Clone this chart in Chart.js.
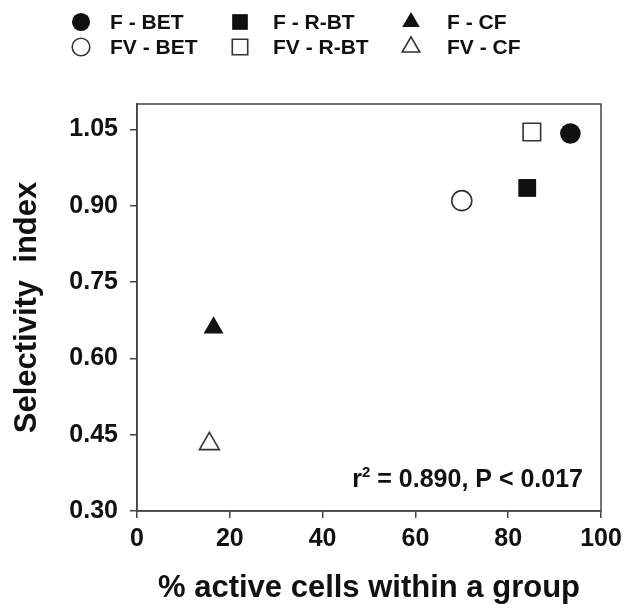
<!DOCTYPE html>
<html>
<head>
<meta charset="utf-8">
<script src="https://cdn.jsdelivr.net/npm/chart.js@4.4.1/dist/chart.umd.min.js"></script>
<style>
  html, body { margin: 0; padding: 0; background: #fff; }
  #wrap { width: 635px; height: 608px; }
</style>
</head>
<body>
<div id="wrap"><canvas id="chart"></canvas></div>
<script>
// ── Data ─────────────────────────────────────────────────────────────────────

const groupNames  = ['F - BET', 'F - R-BT', 'F - CF', 'FV - BET', 'FV - R-BT', 'FV - CF'];
const activeCells = [93.4, 84.1, 16.5, 70.0, 85.1, 15.6];   // % active cells within a group
const selectivity = [1.042, 0.935, 0.660, 0.910, 1.045, 0.432];
const yTicks      = [0.30, 0.45, 0.60, 0.75, 0.90, 1.05];
const xTicks      = [0, 20, 40, 60, 80, 100];
const statText    = ['r', '2', ' = 0.890, P < 0.017'];

// ── Styles ───────────────────────────────────────────────────────────────────

const ink    = '#111';
const frame  = '#444';
const family = '"Liberation Sans", Arial, Helvetica, sans-serif';
const shapes = ['circle', 'rect', 'triangle', 'circle', 'rect', 'triangle'];
const radii  = [10.3, 12.6, 11.5, 10, 12.4, 11.5];
const filled = [true, true, true, false, false, false];

const datasets = groupNames.map((name, i) => ({
  label: name,
  data: [{ x: activeCells[i], y: selectivity[i] }],
  pointStyle: shapes[i],
  pointRadius: radii[i],
  pointHoverRadius: radii[i],
  backgroundColor: filled[i] ? ink : '#fff',
  borderColor: filled[i] ? ink : '#333',
  borderWidth: filled[i] ? 0 : 1.6,
}));

// ── Plugins: frame, legend grid, stats text ──────────────────────────────────

const framePlugin = {
  id: 'frame',
  afterDraw(chart) {
    const { ctx, chartArea: a } = chart;
    ctx.save();
    ctx.strokeStyle = frame;
    ctx.lineWidth = 1.5;
    ctx.strokeRect(a.left, a.top, a.right - a.left, a.bottom - a.top);
    ctx.restore();
  }
};

const legendPlugin = {
  id: 'gridLegend',
  afterDraw(chart) {
    const ctx = chart.ctx;
    const markX = [81, 240, 411];
    const textX = [110, 273, 447];
    const rowY  = [22, 47];
    ctx.save();
    chart.data.datasets.forEach((ds, i) => {
      const col = i % 3, row = Math.floor(i / 3);
      ctx.fillStyle = ds.backgroundColor;
      ctx.strokeStyle = ds.borderColor;
      ctx.lineWidth = ds.borderWidth;
      Chart.helpers.drawPoint(ctx, {
        pointStyle: ds.pointStyle,
        radius: ds.pointRadius * 0.88,
        borderWidth: ds.borderWidth,
        rotation: 0
      }, markX[col], rowY[row]);
      ctx.fillStyle = ink;
      ctx.font = 'bold 21px ' + family;
      ctx.textAlign = 'left';
      ctx.textBaseline = 'middle';
      ctx.fillText(ds.label, textX[col], rowY[row] + 1);
    });
    ctx.restore();
  }
};

const statPlugin = {
  id: 'stat',
  afterDraw(chart) {
    const { ctx, chartArea: a } = chart;
    const big = 'bold 25px ' + family, small = 'bold 15px ' + family;
    const right = a.right - 18, base = a.bottom - 24;
    ctx.save();
    ctx.fillStyle = ink;
    ctx.textBaseline = 'alphabetic';
    ctx.font = big;
    const w0 = ctx.measureText(statText[0]).width;
    const w2 = ctx.measureText(statText[2]).width;
    ctx.font = small;
    const w1 = ctx.measureText(statText[1]).width;
    let x = right - w0 - w1 - w2;
    ctx.font = big;
    ctx.fillText(statText[0], x, base);
    x += w0;
    ctx.font = small;
    ctx.fillText(statText[1], x, base - 10);
    x += w1;
    ctx.font = big;
    ctx.fillText(statText[2], x, base);
    ctx.restore();
  }
};

// ── Chart ────────────────────────────────────────────────────────────────────

new Chart(document.getElementById('chart'), {
  type: 'scatter',
  data: { datasets },
  plugins: [framePlugin, legendPlugin, statPlugin],
  options: {
    responsive: true,
    maintainAspectRatio: false,
    animation: false,
    events: [],
    layout: { padding: { top: 104, right: 34, bottom: 0, left: 0 } },
    plugins: { legend: { display: false }, tooltip: { enabled: false } },
    scales: {
      x: {
        type: 'linear', min: 0, max: 100,
        afterFit: s => { s.height = 97; },
        afterBuildTicks: s => { s.ticks = xTicks.map(v => ({ value: v })); },
        ticks: { color: ink, padding: 6, font: { family, size: 25, weight: 'bold' } },
        grid: { drawOnChartArea: false, drawTicks: true, tickLength: 7, color: frame, lineWidth: 1.5 },
        border: { display: true, color: frame, width: 1.5 },
        title: {
          display: true, text: '% active cells within a group', color: ink,
          font: { family, size: 31, weight: 'bold' }, padding: { top: 0, bottom: 1 }
        }
      },
      y: {
        type: 'linear', min: 0.30, max: 1.10,
        afterFit: s => { s.width = 137; },
        afterBuildTicks: s => { s.ticks = yTicks.map(v => ({ value: v })); },
        ticks: {
          color: ink, padding: 12, font: { family, size: 25, weight: 'bold' },
          callback: v => v.toFixed(2)
        },
        grid: { drawOnChartArea: false, drawTicks: true, tickLength: 7, color: frame, lineWidth: 1.5 },
        border: { display: true, color: frame, width: 1.5 },
        title: {
          display: true, text: 'Selectivity  index', color: ink,
          font: { family, size: 31, weight: 'bold' }, padding: { top: 9, bottom: 0 }
        }
      }
    }
  }
});
</script>
</body>
</html>
